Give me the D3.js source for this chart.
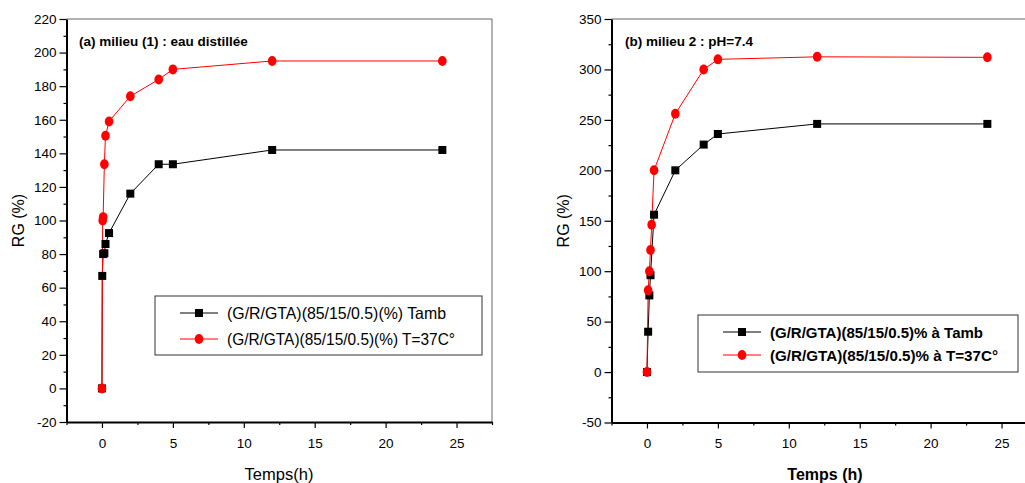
<!DOCTYPE html>
<html><head><meta charset="utf-8">
<script src="https://cdn.jsdelivr.net/npm/d3@7"></script>
<style>body{margin:0;background:#fff;}svg{display:block;font-family:"Liberation Sans",Arial,sans-serif;}</style>
</head><body><svg id="c" width="1025" height="483"></svg>
<script>
// Panel (a): milieu (1) eau distillée
const timeA_amb = [0, 0.02, 0.083, 0.17, 0.25, 0.5, 2, 4, 5, 12, 24];
const rgA_amb   = [0, 67, 80, 80.5, 86, 92.5, 116, 133.5, 133.5, 142, 142];
const timeA_37  = [0, 0.05, 0.083, 0.17, 0.25, 0.5, 2, 4, 5, 12, 24];
const rgA_37    = [0, 100, 102, 133.5, 150.5, 159, 174, 184, 190, 195, 195];
// Panel (b): milieu 2 pH=7.4
const timeB_amb = [0, 0.083, 0.17, 0.25, 0.5, 2, 4, 5, 12, 24];
const rgB_amb   = [0, 40, 76, 96, 156, 200, 225.5, 236, 246, 246];
const timeB_37  = [0, 0.083, 0.17, 0.25, 0.33, 0.5, 2, 4, 5, 12, 24];
const rgB_37    = [0, 81, 100, 121, 146, 200, 256, 300, 310, 312.5, 312];

const xTicks = [0, 5, 10, 15, 20, 25];
const yTicksA = [-20, 0, 20, 40, 60, 80, 100, 120, 140, 160, 180, 200, 220];
const yTicksB = [-50, 0, 50, 100, 150, 200, 250, 300, 350];

const titleA = "(a) milieu (1) : eau distillée";
const titleB = "(b) milieu 2 : pH=7.4";
const legA = ["(G/R/GTA)(85/15/0.5)(%) Tamb", "(G/R/GTA)(85/15/0.5)(%) T=37C°"];
const legB = ["(G/R/GTA)(85/15/0.5)% à Tamb", "(G/R/GTA)(85/15/0.5)% à T=37C°"];

const svg = d3.select("#c");
const fmt = d => String(d);

function panel(cfg) {
  const g = svg.append("g");
  const x = d3.scaleLinear().domain([-2.5, 27.5]).range([cfg.x0, cfg.x1]);
  const y = d3.scaleLinear().domain(cfg.yDom).range([cfg.yb, cfg.yt]);
  // frame top/right
  g.append("line").attr("x1", cfg.x0).attr("x2", cfg.x1).attr("y1", cfg.yt).attr("y2", cfg.yt)
    .attr("stroke", "#666").attr("stroke-width", 1);
  g.append("line").attr("x1", cfg.x1).attr("x2", cfg.x1).attr("y1", cfg.yt).attr("y2", cfg.yb)
    .attr("stroke", "#666").attr("stroke-width", 1);
  // minor ticks
  const minorX = d3.range(-2.5, 27.6, 2.5).filter(v => Math.abs(v % 5) > 0.01);
  const xMinor = g.append("g").attr("transform", `translate(0,${cfg.yb})`)
    .call(d3.axisBottom(x).tickValues(minorX).tickSize(3).tickFormat(""));
  xMinor.select(".domain").remove();
  const minorY = d3.range(cfg.yDom[0], cfg.yDom[1] + 0.1, cfg.yMinor).filter(v => !cfg.yTicks.includes(v));
  const yMinor = g.append("g").attr("transform", `translate(${cfg.x0},0)`)
    .call(d3.axisLeft(y).tickValues(minorY).tickSize(3).tickFormat(""));
  yMinor.select(".domain").remove();
  // main axes
  const xa = g.append("g").attr("transform", `translate(0,${cfg.yb})`)
    .call(d3.axisBottom(x).tickValues(xTicks).tickFormat(fmt).tickSize(6).tickSizeOuter(0).tickPadding(10));
  const ya = g.append("g").attr("transform", `translate(${cfg.x0},0)`)
    .call(d3.axisLeft(y).tickValues(cfg.yTicks).tickFormat(fmt).tickSize(7).tickSizeOuter(0).tickPadding(3));
  [xa, ya, xMinor, yMinor].forEach(a => {
    a.selectAll("line").attr("stroke", "#000").attr("stroke-width", 1.2);
    a.selectAll("text").attr("font-size", 13.5).attr("fill", "#000")
      .attr("font-family", "'Liberation Sans',Arial,sans-serif");
  });
  xa.select(".domain").attr("stroke", "#000").attr("stroke-width", 2);
  ya.select(".domain").attr("stroke", "#000").attr("stroke-width", 2);

  // series
  const line = d3.line().x(d => x(d[0])).y(d => y(d[1]));
  const black = cfg.tAmb.map((t, i) => [t, cfg.vAmb[i]]);
  const red = cfg.t37.map((t, i) => [t, cfg.v37[i]]);
  g.append("path").datum(black).attr("d", line).attr("fill", "none").attr("stroke", "#000").attr("stroke-width", 1);
  g.append("path").datum(red).attr("d", line).attr("fill", "none").attr("stroke", "#ff0000").attr("stroke-width", 1);
  g.selectAll(".sq").data(black).enter().append("rect")
    .attr("x", d => x(d[0]) - 4).attr("y", d => y(d[1]) - 4).attr("width", 8).attr("height", 8).attr("fill", "#000");
  g.selectAll(".ci").data(red).enter().append("ellipse")
    .attr("cx", d => x(d[0])).attr("cy", d => y(d[1])).attr("rx", 4.3).attr("ry", 5).attr("fill", "#ff0000");

  // title
  g.append("text").attr("x", cfg.titleX).attr("y", 46).attr("font-size", 13.5).attr("font-weight", "bold")
    .text(cfg.title);
  // axis labels
  g.append("text").attr("transform", `translate(${cfg.ylabX},${(cfg.yt + cfg.yb) / 2}) rotate(-90)`)
    .attr("text-anchor", "middle").attr("font-size", 16).text("RG (%)");
  g.append("text").attr("x", cfg.xlabX).attr("y", 480).attr("text-anchor", "middle")
    .attr("font-size", cfg.xlabSize).attr("font-weight", cfg.bold ? "bold" : "normal").text(cfg.xlab);

  // legend
  const L = cfg.leg;
  g.append("rect").attr("x", L.x).attr("y", L.y).attr("width", L.w).attr("height", L.h)
    .attr("fill", "#fff").attr("stroke", "#333").attr("stroke-width", 1);
  const cols = ["#000", "#ff0000"];
  cfg.legText.forEach((t, i) => {
    const yy = L.y + L.r0 + i * L.dy;
    g.append("line").attr("x1", L.lx).attr("x2", L.lx + 38).attr("y1", yy).attr("y2", yy)
      .attr("stroke", cols[i]).attr("stroke-width", 1);
    if (i === 0) g.append("rect").attr("x", L.lx + 15).attr("y", yy - 4).attr("width", 8).attr("height", 8).attr("fill", "#000");
    else g.append("ellipse").attr("cx", L.lx + 19).attr("cy", yy).attr("rx", 4.3).attr("ry", 5).attr("fill", "#ff0000");
    g.append("text").attr("x", L.tx).attr("y", yy + 5.5).attr("font-size", L.fs)
      .attr("font-weight", cfg.bold ? "bold" : "normal")
      .attr("textLength", L.tw[i]).attr("lengthAdjust", "spacingAndGlyphs").text(t);
  });
}

panel({x0: 66.5, x1: 492, yt: 19, yb: 422, yDom: [-20, 220], yTicks: yTicksA, yMinor: 10,
  tAmb: timeA_amb, vAmb: rgA_amb, t37: timeA_37, v37: rgA_37,
  title: titleA, titleX: 79, ylabX: 24, xlab: "Temps(h)", xlabX: 279, xlabSize: 16.5, bold: false,
  legText: legA, leg: {x: 155, y: 296, w: 327, h: 59, r0: 17, dy: 26, lx: 180, tx: 227, fs: 16.5, tw: [219, 228]}});
panel({x0: 611.5, x1: 1037, yt: 19, yb: 422.5, yDom: [-50, 350], yTicks: yTicksB, yMinor: 25,
  tAmb: timeB_amb, vAmb: rgB_amb, t37: timeB_37, v37: rgB_37,
  title: titleB, titleX: 625, ylabX: 569, xlab: "Temps (h)", xlabX: 825, xlabSize: 16, bold: true,
  legText: legB, leg: {x: 698, y: 315, w: 320, h: 57, r0: 17, dy: 23, lx: 723, tx: 770, fs: 14.5, tw: [213, 228]}});
</script></body></html>
